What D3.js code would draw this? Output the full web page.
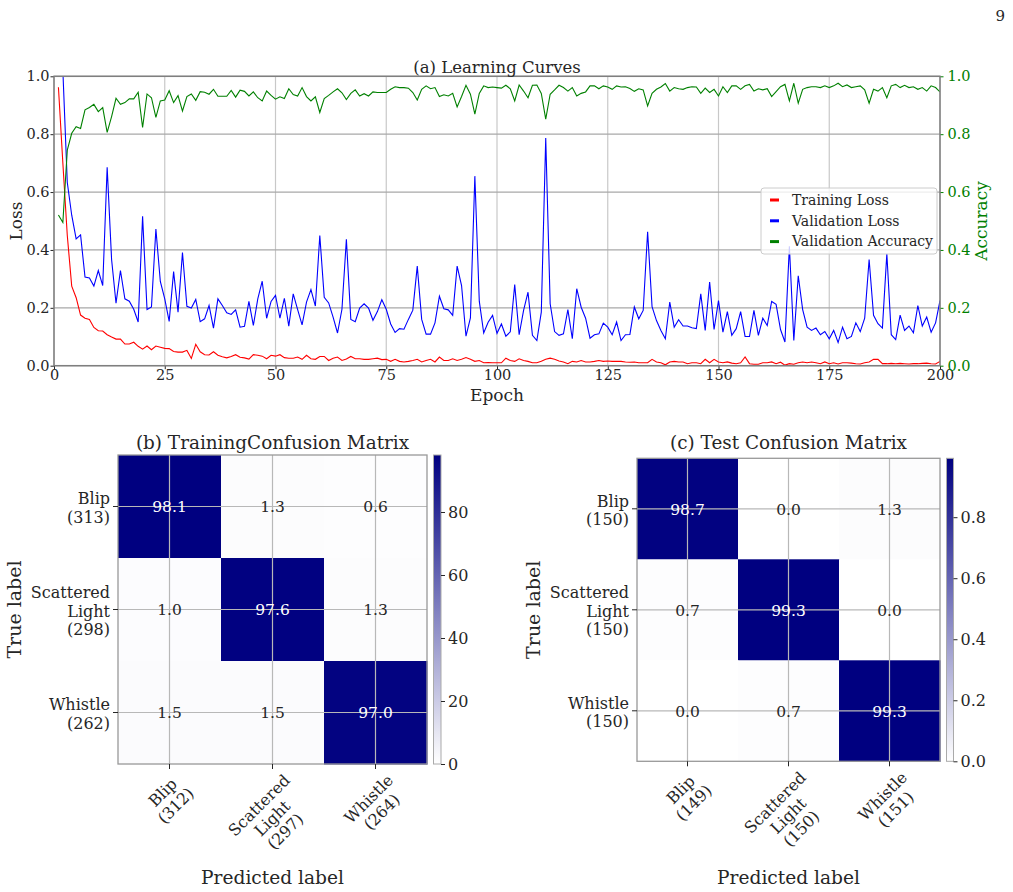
<!DOCTYPE html>
<html><head><meta charset="utf-8">
<script src="https://cdn.jsdelivr.net/npm/d3@7"></script>
<style>
body{margin:0;background:#fff}
svg{display:block}
text{font-family:"DejaVu Serif",serif}
</style>
</head><body>
<svg id="c" width="1013" height="892"></svg>
<script>
// ---------------- data ----------------
const epochs = d3.range(1, 201);
const trainingLoss = [
0.962,0.70,0.45,0.275,0.235,0.175,0.164,0.160,0.132,0.121,
0.120,0.107,0.099,0.092,0.092,0.075,0.075,0.081,0.067,0.057,
0.068,0.055,0.068,0.064,0.060,0.059,0.049,0.047,0.047,0.053,
0.025,0.074,0.048,0.038,0.037,0.048,0.036,0.031,0.027,0.032,
0.038,0.029,0.027,0.023,0.038,0.036,0.033,0.024,0.036,0.033,
0.038,0.028,0.026,0.026,0.030,0.022,0.036,0.024,0.022,0.032,
0.032,0.018,0.026,0.030,0.018,0.023,0.032,0.024,0.024,0.022,
0.022,0.024,0.026,0.021,0.022,0.015,0.022,0.015,0.013,0.015,
0.018,0.022,0.013,0.018,0.022,0.013,0.030,0.018,0.018,0.024,
0.018,0.022,0.028,0.022,0.015,0.018,0.010,0.011,0.010,0.010,
0.010,0.026,0.018,0.015,0.024,0.018,0.015,0.010,0.010,0.015,
0.022,0.026,0.022,0.016,0.013,0.007,0.015,0.013,0.018,0.013,
0.013,0.015,0.018,0.015,0.016,0.015,0.015,0.015,0.013,0.012,
0.013,0.010,0.010,0.010,0.022,0.013,0.010,0.003,0.013,0.015,
0.013,0.013,0.007,0.010,0.010,0.007,0.022,0.010,0.022,0.013,
0.010,0.013,0.009,0.007,0.010,0.030,0.007,0.005,0.005,0.010,
0.010,0.013,0.007,0.012,0.002,0.007,0.005,0.010,0.013,0.010,
0.013,0.010,0.007,0.013,0.007,0.010,0.006,0.010,0.010,0.009,
0.007,0.006,0.010,0.013,0.022,0.022,0.007,0.007,0.008,0.007,
0.008,0.007,0.006,0.007,0.007,0.008,0.009,0.007,0.006,0.015];
const validationLoss = [
1.25,1.02,0.633,0.52,0.438,0.452,0.306,0.303,0.275,0.329,
0.277,0.686,0.367,0.216,0.329,0.231,0.223,0.195,0.151,0.516,
0.194,0.203,0.472,0.291,0.231,0.153,0.325,0.185,0.391,0.205,
0.199,0.229,0.152,0.162,0.208,0.130,0.231,0.208,0.183,0.177,
0.193,0.133,0.136,0.222,0.139,0.231,0.292,0.164,0.222,0.243,
0.164,0.233,0.137,0.248,0.194,0.141,0.220,0.263,0.206,0.450,
0.236,0.217,0.168,0.113,0.195,0.437,0.160,0.152,0.199,0.214,
0.199,0.157,0.187,0.228,0.195,0.144,0.115,0.128,0.126,0.160,
0.192,0.344,0.160,0.109,0.109,0.148,0.240,0.197,0.193,0.174,
0.344,0.277,0.102,0.165,0.655,0.223,0.113,0.150,0.174,0.112,
0.144,0.102,0.117,0.280,0.107,0.191,0.254,0.105,0.087,0.185,
0.787,0.214,0.118,0.105,0.110,0.194,0.093,0.266,0.202,0.164,
0.095,0.107,0.110,0.147,0.133,0.107,0.151,0.087,0.107,0.108,
0.203,0.162,0.191,0.463,0.204,0.156,0.122,0.093,0.220,0.133,
0.159,0.137,0.137,0.131,0.128,0.248,0.122,0.289,0.125,0.225,
0.116,0.187,0.105,0.128,0.187,0.101,0.101,0.191,0.105,0.164,
0.139,0.222,0.212,0.125,0.082,0.413,0.087,0.311,0.194,0.133,
0.122,0.130,0.107,0.118,0.093,0.122,0.080,0.133,0.093,0.101,
0.148,0.118,0.164,0.367,0.174,0.145,0.130,0.387,0.107,0.090,
0.175,0.122,0.137,0.114,0.208,0.137,0.168,0.116,0.148,0.225];
const validationAccuracy = [
0.521,0.495,0.745,0.803,0.826,0.820,0.884,0.892,0.903,0.878,
0.892,0.806,0.861,0.924,0.903,0.909,0.922,0.922,0.945,0.823,
0.939,0.926,0.858,0.915,0.918,0.950,0.909,0.933,0.880,0.930,
0.939,0.917,0.947,0.945,0.938,0.955,0.931,0.931,0.931,0.951,
0.928,0.952,0.948,0.932,0.946,0.926,0.915,0.949,0.934,0.921,
0.929,0.923,0.957,0.937,0.932,0.961,0.930,0.915,0.929,0.875,
0.923,0.934,0.946,0.957,0.943,0.920,0.941,0.953,0.932,0.940,
0.932,0.946,0.944,0.944,0.944,0.955,0.964,0.961,0.961,0.959,
0.944,0.918,0.955,0.967,0.957,0.961,0.930,0.936,0.932,0.941,
0.894,0.930,0.969,0.938,0.869,0.941,0.967,0.961,0.963,0.961,
0.959,0.969,0.957,0.915,0.970,0.949,0.926,0.969,0.970,0.941,
0.852,0.938,0.953,0.969,0.961,0.949,0.961,0.932,0.941,0.946,
0.967,0.967,0.957,0.967,0.963,0.955,0.967,0.963,0.964,0.958,
0.948,0.957,0.953,0.898,0.941,0.955,0.963,0.975,0.949,0.961,
0.957,0.955,0.961,0.964,0.963,0.941,0.959,0.944,0.955,0.932,
0.964,0.944,0.967,0.967,0.955,0.967,0.972,0.949,0.957,0.953,
0.957,0.930,0.947,0.964,0.972,0.915,0.976,0.907,0.955,0.961,
0.964,0.964,0.961,0.967,0.961,0.967,0.976,0.964,0.970,0.961,
0.964,0.967,0.953,0.907,0.955,0.949,0.961,0.926,0.967,0.972,
0.961,0.969,0.961,0.964,0.955,0.961,0.949,0.967,0.961,0.946];

const seriesNames = ["Training Loss", "Validation Loss", "Validation Accuracy"];
const seriesColors = ["#ff0000", "#0000ff", "#008000"];
const epochTicks = [0, 25, 50, 75, 100, 125, 150, 175, 200];
const unitTicks = [0, 0.2, 0.4, 0.6, 0.8, 1.0];

const classLabels = [["Blip"], ["Scattered", "Light"], ["Whistle"]];
const trainTrueCounts = [313, 298, 262];
const trainPredCounts = [312, 297, 264];
const testTrueCounts = [150, 150, 150];
const testPredCounts = [149, 150, 151];
const trainMatrix = [[98.1, 1.3, 0.6], [1.0, 97.6, 1.3], [1.5, 1.5, 97.0]];
const testMatrix = [[98.7, 0.0, 1.3], [0.7, 99.3, 0.0], [0.0, 0.7, 99.3]];
const trainCbarTicks = [0, 20, 40, 60, 80];
const testCbarTicks = [0.0, 0.2, 0.4, 0.6, 0.8];

// ---------------- drawing ----------------
const svg = d3.select("#c");
svg.append("rect").attr("width", 1013).attr("height", 892).attr("fill", "#fff");
const ink = "#262626";
const spine = "#7f7f7f";

svg.append("text").attr("x", 1005).attr("y", 21).attr("text-anchor", "end")
  .attr("font-size", 15).attr("fill", ink).text("9");

// ---- (a) learning curves ----
const L = {x0: 54, x1: 940, y0: 76.3, y1: 365.7};
const x = d3.scaleLinear().domain([0, 200]).range([L.x0, L.x1]);
const yL = d3.scaleLinear().domain([0, 1]).range([L.y1, L.y0]);
const yA = d3.scaleLinear().domain([0, 1]).range([L.y1, L.y0]);

const gA = svg.append("g");
gA.append("g").selectAll("line").data(epochTicks).join("line")
  .attr("x1", d => x(d)).attr("x2", d => x(d)).attr("y1", L.y0).attr("y2", L.y1)
  .attr("stroke", "#c8c8c8").attr("stroke-width", 1.2);
gA.append("g").selectAll("line").data(unitTicks).join("line")
  .attr("x1", L.x0).attr("x2", L.x1).attr("y1", d => yL(d)).attr("y2", d => yL(d))
  .attr("stroke", "#a8a8a8").attr("stroke-width", 1.2);

svg.append("defs").append("clipPath").attr("id", "clipA").append("rect")
  .attr("x", L.x0).attr("y", L.y0).attr("width", L.x1 - L.x0).attr("height", L.y1 - L.y0);

const lineL = d3.line().x((d, i) => x(epochs[i])).y(d => yL(d));
const lineA = d3.line().x((d, i) => x(epochs[i])).y(d => yA(d));
const plot = gA.append("g").attr("clip-path", "url(#clipA)");
plot.append("path").datum(trainingLoss).attr("d", lineL).attr("fill", "none")
  .attr("stroke", seriesColors[0]).attr("stroke-width", 1.1);
plot.append("path").datum(validationLoss).attr("d", lineL).attr("fill", "none")
  .attr("stroke", seriesColors[1]).attr("stroke-width", 1.1);
plot.append("path").datum(validationAccuracy).attr("d", lineA).attr("fill", "none")
  .attr("stroke", seriesColors[2]).attr("stroke-width", 1.1);

function styleAxis(g, color) {
  g.select(".domain").remove();
  g.selectAll(".tick line").attr("stroke", color);
  g.selectAll(".tick text").attr("fill", color).attr("font-family", '"DejaVu Serif",serif');
}
const axB = gA.append("g").attr("transform", `translate(0,${L.y1})`)
  .call(d3.axisBottom(x).tickValues(epochTicks).tickSize(3.5).tickPadding(1).tickFormat(d3.format("d")));
styleAxis(axB, ink); axB.attr("font-size", 14.5);
const axLft = gA.append("g").attr("transform", `translate(${L.x0},0)`)
  .call(d3.axisLeft(yL).tickValues(unitTicks).tickSize(3.5).tickPadding(1).tickFormat(d3.format(".1f")));
styleAxis(axLft, ink); axLft.attr("font-size", 14.5);
const axR = gA.append("g").attr("transform", `translate(${L.x1},0)`)
  .call(d3.axisRight(yA).tickValues(unitTicks).tickSize(3.5).tickPadding(4).tickFormat(d3.format(".1f")));
styleAxis(axR, "#008000"); axR.attr("font-size", 14.5);

gA.append("rect").attr("x", L.x0).attr("y", L.y0).attr("width", L.x1 - L.x0).attr("height", L.y1 - L.y0)
  .attr("fill", "none").attr("stroke", spine).attr("stroke-width", 1.5);

gA.append("text").attr("x", (L.x0 + L.x1) / 2).attr("y", 73).attr("text-anchor", "middle")
  .attr("font-size", 16.5).attr("fill", ink).text("(a) Learning Curves");
gA.append("text").attr("x", (L.x0 + L.x1) / 2).attr("y", 401).attr("text-anchor", "middle")
  .attr("font-size", 17).attr("fill", ink).text("Epoch");
gA.append("text").attr("transform", `translate(22,${(L.y0 + L.y1) / 2}) rotate(-90)`)
  .attr("text-anchor", "middle").attr("font-size", 17).attr("fill", ink).text("Loss");
gA.append("text").attr("transform", `translate(987,${(L.y0 + L.y1) / 2}) rotate(-90)`)
  .attr("text-anchor", "middle").attr("font-size", 17).attr("fill", "#008000").text("Accuracy");

// legend
const lg = gA.append("g");
lg.append("rect").attr("x", 761).attr("y", 188).attr("width", 176).attr("height", 66).attr("rx", 3)
  .attr("fill", "#fff").attr("fill-opacity", 0.8).attr("stroke", "#cccccc");
seriesNames.forEach((n, i) => {
  const yy = 200 + i * 20.8;
  lg.append("line").attr("x1", 770).attr("x2", 779).attr("y1", yy).attr("y2", yy)
    .attr("stroke", seriesColors[i]).attr("stroke-width", 3);
  lg.append("text").attr("x", 792).attr("y", yy + 4.8).attr("font-size", 14).attr("fill", ink).text(n);
});

// ---- confusion matrices ----
const cmap = d3.interpolateRgb("#ffffff", "#000080");
let gradId = 0;
function drawCM(o) {
  const g = svg.append("g");
  const band = d3.scaleBand().domain([0, 1, 2]).range([0, o.size]);
  const color = d3.scaleLinear().domain([0, o.cmax]).range([0, 1]).clamp(true);
  const cells = [];
  o.matrix.forEach((row, r) => row.forEach((v, c) => cells.push({r, c, v, cv: v * o.scale})));
  g.selectAll("rect.cell").data(cells).join("rect").attr("class", "cell")
    .attr("x", d => o.x0 + band(d.c)).attr("y", d => o.y0 + band(d.r))
    .attr("width", band.bandwidth() + 0.5).attr("height", band.bandwidth() + 0.5)
    .attr("fill", d => cmap(color(d.cv)));
  const centers = [0, 1, 2].map(i => band(i) + band.bandwidth() / 2);
  g.selectAll("line.gv").data(centers).join("line")
    .attr("x1", d => o.x0 + d).attr("x2", d => o.x0 + d).attr("y1", o.y0).attr("y2", o.y0 + o.size)
    .attr("stroke", "#b8b8b8").attr("stroke-width", 1.2);
  g.selectAll("line.gh").data(centers).join("line")
    .attr("y1", d => o.y0 + d).attr("y2", d => o.y0 + d).attr("x1", o.x0).attr("x2", o.x0 + o.size)
    .attr("stroke", "#b8b8b8").attr("stroke-width", 1.2);
  g.selectAll("text.val").data(cells).join("text")
    .attr("x", d => o.x0 + band(d.c) + band.bandwidth() / 2)
    .attr("y", d => o.y0 + band(d.r) + band.bandwidth() / 2 + 5.8)
    .attr("text-anchor", "middle").attr("font-size", 15.5)
    .attr("fill", d => color(d.cv) > 0.5 ? "#ffffff" : ink)
    .text(d => d.v.toFixed(1));
  g.append("rect").attr("x", o.x0).attr("y", o.y0).attr("width", o.size).attr("height", o.size)
    .attr("fill", "none").attr("stroke", "#999").attr("stroke-width", 1.3);
  centers.forEach(cn => {
    g.append("line").attr("x1", o.x0 - 5).attr("x2", o.x0).attr("y1", o.y0 + cn).attr("y2", o.y0 + cn).attr("stroke", ink);
    g.append("line").attr("y1", o.y0 + o.size).attr("y2", o.y0 + o.size + 5).attr("x1", o.x0 + cn).attr("x2", o.x0 + cn).attr("stroke", ink);
  });
  const lh = 18.5, fs = 16;
  classLabels.forEach((lab, i) => {
    const lines = lab.concat([`(${o.trueCounts[i]})`]);
    const t = g.append("text").attr("text-anchor", "end").attr("font-size", fs).attr("fill", ink);
    const yc = o.y0 + centers[i] + 2;
    const top = yc - lines.length * lh / 2;
    lines.forEach((s, k) => t.append("tspan").attr("x", o.x0 - 8).attr("y", top + k * lh + lh * 0.78).text(s));
  });
  classLabels.forEach((lab, i) => {
    const lines = lab.concat([`(${o.predCounts[i]})`]);
    const t = g.append("text").attr("text-anchor", "middle").attr("font-size", fs).attr("fill", ink);
    lines.forEach((s, k) => t.append("tspan").attr("x", 0).attr("y", k * lh + lh * 0.78).text(s));
    let w = 0; t.selectAll("tspan").each(function () { w = Math.max(w, this.getComputedTextLength()); });
    const n = lines.length, k = Math.SQRT1_2;
    const px = o.x0 + centers[i] - n * lh * k / 2;
    const py = o.y0 + o.size + 7 + (w / 2) * k;
    t.attr("transform", `translate(${px},${py}) rotate(-45)`);
  });
  g.append("text").attr("x", o.x0 + o.size / 2).attr("y", 449).attr("text-anchor", "middle")
    .attr("font-size", 18.4).attr("fill", ink).text(o.title);
  g.append("text").attr("x", o.x0 + o.size / 2).attr("y", 884).attr("text-anchor", "middle")
    .attr("font-size", 18.6).attr("fill", ink).text("Predicted label");
  g.append("text").attr("transform", `translate(${o.ylabX},${o.y0 + o.size / 2}) rotate(-90)`)
    .attr("text-anchor", "middle").attr("font-size", 19).attr("fill", ink).text("True label");
  const id = "grad" + (gradId++);
  const gr = svg.select("defs").append("linearGradient").attr("id", id)
    .attr("x1", 0).attr("y1", 1).attr("x2", 0).attr("y2", 0);
  d3.range(0, 1.0001, 0.1).forEach(s => gr.append("stop").attr("offset", s).attr("stop-color", cmap(s)));
  const cb = d3.scaleLinear().domain([0, o.cmax]).range([o.y0 + o.size, o.y0]);
  g.append("rect").attr("x", o.cbx).attr("y", o.y0).attr("width", o.cbw).attr("height", o.size)
    .attr("fill", `url(#${id})`).attr("stroke", "#aaa").attr("stroke-width", 1);
  const ax = g.append("g").attr("transform", `translate(${o.cbx + o.cbw},0)`)
    .call(d3.axisRight(cb).tickValues(o.cbTicks).tickSize(4).tickPadding(3).tickFormat(o.cbFmt));
  styleAxis(ax, ink); ax.attr("font-size", 16);
}

drawCM({x0: 118, y0: 455, size: 309, matrix: trainMatrix, scale: 1, cmax: 98.1,
  trueCounts: trainTrueCounts, predCounts: trainPredCounts,
  title: "(b) TrainingConfusion Matrix", ylabX: 21, cbx: 433.5, cbw: 7.5,
  cbTicks: trainCbarTicks, cbFmt: d3.format("d")});
drawCM({x0: 637, y0: 458.3, size: 303, matrix: testMatrix, scale: 0.01, cmax: 0.993,
  trueCounts: testTrueCounts, predCounts: testPredCounts,
  title: "(c) Test Confusion Matrix", ylabX: 540, cbx: 946.5, cbw: 7,
  cbTicks: testCbarTicks, cbFmt: d3.format(".1f")});
</script>
</body></html>
